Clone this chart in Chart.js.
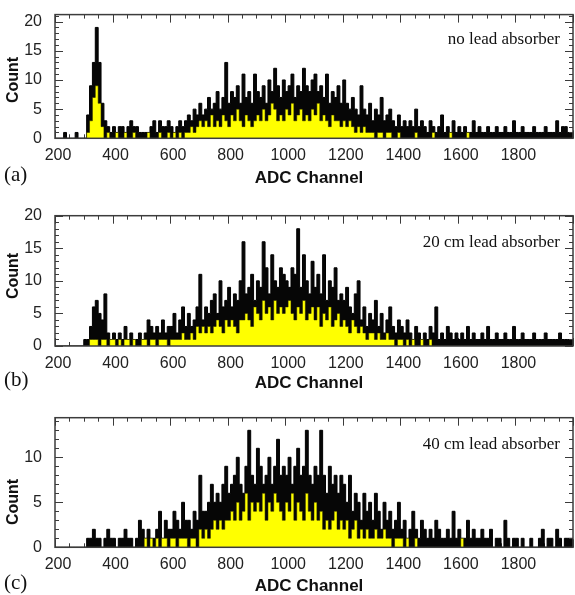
<!DOCTYPE html>
<html>
<head>
<meta charset="utf-8">
<script src="https://cdn.jsdelivr.net/npm/chart.js@4.4.1/dist/chart.umd.min.js"></script>
<style>
  html, body { margin: 0; padding: 0; background: #fff; }
  #wrap { position: relative; width: 575px; height: 595px; overflow: hidden; }
  canvas { position: absolute; left: 0; }
</style>
</head>
<body>
<div id="wrap">
  <canvas id="panelA" width="575" height="195" style="top:0px"></canvas>
  <canvas id="panelB" width="575" height="200" style="top:195px"></canvas>
  <canvas id="panelC" width="575" height="200" style="top:395px"></canvas>
</div>
<script>
// counts per 10-channel bin, from channel 200 up to 2000
const aBlack = [
  0,0,0,1,0,0,0,1,0,0, 0,4,9,13,19,13,6,3,2,1,
  2,1,2,2,1,2,3,2,2,1, 1,1,1,2,3,1,3,2,2,3,
  2,1,2,3,2,3,4,3,5,4, 6,4,5,7,5,6,8,5,7,13,
  6,8,7,9,6,11,7,8,6,11, 8,7,9,6,10,8,12,9,7,10,
  8,9,11,7,9,8,12,9,8,10, 11,8,9,7,11,6,8,7,9,6,
  10,6,5,7,5,4,9,5,4,6, 3,5,4,7,3,4,5,3,2,4,
  2,3,2,3,2,5,2,3,2,1, 3,2,1,2,4,1,2,1,3,1,
  2,1,2,1,1,3,1,2,1,1, 2,1,1,2,1,1,2,1,1,3,
  1,1,2,1,1,1,2,1,1,1, 2,1,1,1,3,1,2,2,1,1
];
const aYellow = [
  0,0,0,0,0,0,0,0,0,0, 0,1,3,7,9,6,2,0,1,0,
  0,1,0,0,1,0,0,1,0,0, 0,0,1,0,0,0,1,0,0,1,
  0,1,0,1,0,1,1,2,1,2, 3,2,3,2,4,2,3,2,4,3,
  2,4,3,5,3,2,4,3,2,3, 4,3,5,3,4,6,5,3,4,3,
  5,4,6,3,4,5,3,4,3,5, 4,6,3,4,3,2,4,3,3,2,
  3,2,3,2,1,2,1,2,1,1, 1,0,1,1,0,1,1,0,0,1,
  0,0,0,0,0,1,0,0,0,0, 0,1,0,0,0,0,0,1,0,0,
  0,0,0,1,0,0,0,0,0,0, 0,0,0,0,0,0,0,0,0,0,
  0,0,0,0,0,0,0,0,0,0, 0,0,0,0,0,0,0,0,0,0
];
const bBlack = [
  0,0,0,0,0,0,0,0,0,0, 1,1,3,6,7,5,4,8,2,1,
  2,1,2,1,3,1,2,1,1,2, 1,2,4,3,2,3,2,4,2,3,
  3,5,2,4,6,3,5,3,4,6, 11,4,6,5,7,8,5,10,6,7,
  9,6,8,7,10,16,8,9,11,7, 10,9,16,12,8,14,10,9,12,11,
  10,9,12,11,18,9,14,10,8,13, 9,11,8,14,7,10,9,12,7,8,
  7,9,6,5,8,10,4,6,3,5, 4,7,3,5,2,4,6,3,2,4,
  3,2,4,2,1,3,2,1,2,1, 3,2,6,1,2,1,3,2,1,2,
  1,2,1,3,1,2,1,1,2,1, 3,1,1,2,1,1,2,1,1,3,
  1,1,2,1,1,1,2,1,1,1, 2,1,1,1,1,2,1,1,1,1
];
const bYellow = [
  0,0,0,0,0,0,0,0,0,0, 0,0,1,1,1,0,1,1,0,1,
  1,0,1,0,1,1,0,1,0,0, 1,1,0,1,1,0,1,1,1,0,
  1,1,1,1,2,1,1,2,1,3, 2,3,2,3,2,3,4,3,2,4,
  3,4,3,2,4,4,5,4,3,6, 5,4,7,5,6,4,7,5,6,5,
  6,7,5,4,6,5,7,4,5,6, 4,6,3,5,4,6,3,4,5,3,
  4,3,2,4,3,2,3,2,1,2, 2,1,2,1,1,2,1,1,0,1,
  1,0,1,0,1,0,0,1,0,0, 1,0,0,0,0,0,0,0,0,0,
  0,0,0,0,0,0,0,0,0,0, 0,0,0,0,0,0,0,0,0,0,
  0,0,0,0,0,0,0,0,0,0, 0,0,0,0,0,0,0,0,0,0
];
const cBlack = [
  0,0,0,0,0,0,0,0,0,0, 0,1,1,2,1,1,0,1,2,1,
  1,0,1,1,2,1,1,0,1,3, 2,1,2,1,1,2,4,1,3,2,
  2,4,3,2,5,3,3,2,4,3, 8,4,4,5,7,5,6,5,7,9,
  6,7,8,10,7,6,9,13,8,7, 11,9,7,8,10,7,9,12,8,9,
  8,10,7,9,11,8,9,13,8,7, 9,8,13,8,6,9,7,8,6,8,
  7,5,8,4,6,5,3,6,4,5, 3,6,4,2,5,3,4,2,3,5,
  2,3,1,2,4,2,1,3,2,1, 2,1,3,2,1,1,2,1,4,1,
  2,1,1,3,1,2,1,1,2,1, 1,2,0,1,1,0,3,1,0,1,
  1,0,1,0,0,1,0,0,1,2, 0,1,1,0,2,1,0,1,1,1
];
const cYellow = [
  0,0,0,0,0,0,0,0,0,0, 0,0,0,0,0,0,0,0,0,0,
  0,0,0,0,0,0,0,0,0,0, 0,1,0,1,0,1,0,1,1,0,
  1,1,0,1,1,1,0,1,1,0, 2,1,2,1,2,3,2,3,2,3,
  3,4,3,5,3,4,6,3,5,4, 5,4,6,3,5,4,6,5,4,3,
  5,4,6,3,5,4,3,6,4,3, 5,3,4,2,3,2,3,4,2,3,
  2,3,1,2,3,1,2,1,2,1, 1,2,1,1,2,1,1,0,1,1,
  1,0,1,0,0,1,0,0,0,0, 0,0,0,0,0,0,0,0,0,0,
  0,1,0,0,0,0,0,0,0,0, 0,0,0,0,0,0,0,0,0,0,
  0,0,0,0,0,0,0,0,0,0, 0,0,0,0,0,0,0,0,0,0
];
const notes = ['no lead absorber', '20 cm lead absorber', '40 cm lead absorber'];
const letters = ['(a)', '(b)', '(c)'];
const yMaxes = [21.2, 20, 14.4];

const channels = aBlack.map((_, i) => 200 + 10 * i);

// left bin edges plus a closing point at 2000 for the stepped outline
function steps(counts) {
  const pts = counts.map((c, i) => ({ x: channels[i], y: c }));
  pts.push({ x: 2000, y: counts[counts.length - 1] });
  return pts;
}

const sans = '"Liberation Sans", Arial, Helvetica, sans-serif';
const serif = '"Liberation Serif", "Times New Roman", serif';

function tickMarks(chart, sides) {
  const { ctx, chartArea: a, scales: { x, y } } = chart;
  ctx.save();
  ctx.strokeStyle = '#3a3a3a';
  ctx.lineWidth = 1;
  ctx.beginPath();
  for (let v = 200; v <= 2000; v += 50) {
    const px = Math.round(x.getPixelForValue(v)) + 0.5;
    const len = v % 200 === 0 ? 8 : 4;
    if (sides.top) { ctx.moveTo(px, a.top); ctx.lineTo(px, a.top + len); }
    if (sides.bottom) { ctx.moveTo(px, a.bottom); ctx.lineTo(px, a.bottom - len); }
  }
  for (let v = 0; v <= y.max; v += 1) {
    const py = Math.round(y.getPixelForValue(v)) + 0.5;
    const len = v % 5 === 0 ? 8 : 4;
    if (sides.left) { ctx.moveTo(a.left, py); ctx.lineTo(a.left + len, py); }
    if (sides.right) { ctx.moveTo(a.right, py); ctx.lineTo(a.right - len, py); }
  }
  ctx.stroke();
  ctx.restore();
}

const histFrame = {
  id: 'histFrame',
  beforeDatasetsDraw(chart) {
    tickMarks(chart, { bottom: true });
  },
  afterDraw(chart, args, o) {
    const { ctx, chartArea: a } = chart;
    tickMarks(chart, { top: true, left: true, right: true });
    ctx.save();
    ctx.strokeStyle = '#3c3c3c';
    ctx.lineWidth = 1.5;
    ctx.strokeRect(a.left, a.top, a.right - a.left, a.bottom - a.top);

    ctx.fillStyle = '#111';
    ctx.textAlign = 'center';
    ctx.textBaseline = 'middle';
    ctx.font = 'bold 17px ' + sans;
    ctx.fillText('ADC Channel', 309, o.xTitleY);

    ctx.save();
    ctx.translate(14, o.yTitleY);
    ctx.rotate(-Math.PI / 2);
    ctx.font = 'bold 16px ' + sans;
    ctx.fillText('Count', 0, 0);
    ctx.restore();

    ctx.textAlign = 'left';
    ctx.font = '21px ' + serif;
    ctx.fillText(o.letter, 4, o.letterY);

    ctx.textAlign = 'right';
    ctx.font = '17px ' + serif;
    ctx.fillText(o.note, a.right - 13, a.top + o.noteDy);
    ctx.restore();
  }
};

const layout = [
  { id: 'panelA', h: 195, top: 8.3, bottom: 138.3, xTitleY: 178, yTitleY: 80, letterY: 175, noteDy: 25 },
  { id: 'panelB', h: 200, top: 20.7, bottom: 151, xTitleY: 188, yTitleY: 81, letterY: 185, noteDy: 26.5 },
  { id: 'panelC', h: 200, top: 22.7, bottom: 152.3, xTitleY: 191, yTitleY: 107, letterY: 188, noteDy: 27 }
];
const series = [[aBlack, aYellow], [bBlack, bYellow], [cBlack, cYellow]];

layout.forEach((p, k) => {
  const [black, yellow] = series[k];
  new Chart(document.getElementById(p.id), {
    type: 'line',
    data: {
      datasets: [
        {
          label: 'yellow',
          data: steps(yellow),
          stepped: 'before',
          fill: 'origin',
          backgroundColor: '#ffff00',
          borderColor: 'rgba(30,30,0,0.65)',
          borderWidth: 0.8,
          pointRadius: 0
        },
        {
          label: 'black',
          data: steps(black),
          stepped: 'before',
          fill: 'origin',
          backgroundColor: '#060606',
          borderColor: '#000',
          borderWidth: 1,
          pointRadius: 0
        }
      ]
    },
    options: {
      responsive: false,
      animation: false,
      devicePixelRatio: 1,
      events: [],
      layout: { padding: { top: p.top, right: 2, bottom: 0, left: 0 } },
      plugins: {
        legend: { display: false },
        tooltip: { enabled: false },
        histFrame: {
          xTitleY: p.xTitleY,
          yTitleY: p.yTitleY,
          letterY: p.letterY,
          noteDy: p.noteDy,
          letter: letters[k],
          note: notes[k]
        }
      },
      scales: {
        x: {
          type: 'linear',
          min: 200,
          max: 2000,
          offset: false,
          grid: { display: false },
          border: { display: false },
          ticks: {
            stepSize: 200,
            autoSkip: false,
            maxRotation: 0,
            padding: 0,
            labelOffset: 3,
            color: '#222',
            font: { family: sans, size: 16 },
            callback: v => (v < 2000 ? String(v) : null)
          },
          afterFit: s => { s.height = p.h - p.bottom; }
        },
        y: {
          min: 0,
          max: yMaxes[k],
          grid: { display: false },
          border: { display: false },
          ticks: {
            stepSize: 5,
            includeBounds: false,
            padding: 5,
            color: '#222',
            font: { family: sans, size: 16 }
          },
          afterFit: s => { s.width = 55; }
        }
      }
    },
    plugins: [histFrame]
  });
});
</script>
</body>
</html>
